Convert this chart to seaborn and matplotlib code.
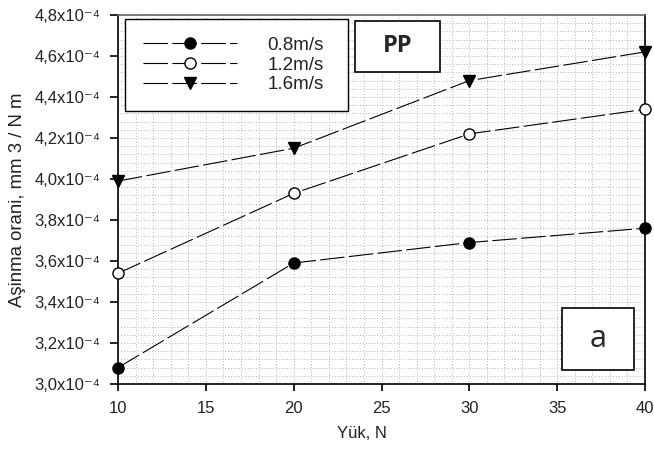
import matplotlib
matplotlib.use("Agg")
import matplotlib.pyplot as plt
import matplotlib.ticker as mticker
from matplotlib.patches import Rectangle
import seaborn as sns
import pandas as pd

# Wear rate of PP versus load at three sliding speeds
loads = [10, 20, 30, 40]
rate_08 = [3.08e-4, 3.59e-4, 3.69e-4, 3.76e-4]
rate_12 = [3.54e-4, 3.93e-4, 4.22e-4, 4.34e-4]
rate_16 = [3.99e-4, 4.15e-4, 4.48e-4, 4.62e-4]
speed_labels = ["0.8m/s", "1.2m/s", "1.6m/s"]

sns.set_theme(style="white")
plt.rcParams["font.family"] = ["Liberation Sans", "DejaVu Sans"]

fig = plt.figure(figsize=(6.54, 4.53), dpi=100)
ax = fig.add_axes([118 / 654, 1 - 384 / 453, (645 - 118) / 654, (384 - 15) / 453])

series = [
    (rate_08, dict(marker="o", markerfacecolor="black", markeredgecolor="black")),
    (rate_12, dict(marker="o", markerfacecolor="white", markeredgecolor="black")),
    (rate_16, dict(marker="v", markerfacecolor="black", markeredgecolor="black")),
]

for (vals, mstyle), lab in zip(series, speed_labels):
    df = pd.DataFrame({"load": loads, "rate": vals})
    sns.lineplot(data=df, x="load", y="rate", ax=ax, color="black",
                 linewidth=0.8, markersize=8, markeredgewidth=1.0,
                 label=lab, clip_on=False, zorder=5, **mstyle)

for ln in ax.get_lines():
    ln.set_dashes((22, 4))

ax.set_xlim(10, 40)
ax.set_ylim(3.0e-4, 4.8e-4)
ax.xaxis.set_major_locator(mticker.MultipleLocator(5))
ax.xaxis.set_minor_locator(mticker.MultipleLocator(1))
ax.yaxis.set_major_locator(mticker.MultipleLocator(0.2e-4))
ax.yaxis.set_minor_locator(mticker.MultipleLocator(0.04e-4))


def ylab(v, pos):
    m = v / 1e-4
    return f"{m:.1f}".replace(".", ",") + "x10\u207b\u2074"


ax.yaxis.set_major_formatter(mticker.FuncFormatter(ylab))

ax.grid(which="both", color="#555555", linestyle=(0, (1, 3.5)), linewidth=0.45)
ax.set_axisbelow(True)

for s in ax.spines.values():
    s.set_color("black")
    s.set_linewidth(1.2)
ax.spines["top"].set_color("#666666")

ax.tick_params(axis="both", which="major", direction="out", width=1.2,
               color="black", labelsize=12,
               bottom=True, left=True, top=False, right=False)
ax.tick_params(axis="y", which="major", length=5.8, pad=7)
ax.tick_params(axis="x", which="major", length=5, pad=7)
ax.tick_params(axis="both", which="minor", length=0)

ax.set_xlabel("Yük, N", fontsize=12, labelpad=7.5, color="#222222")
ax.xaxis.label.set_x((362 - 118) / 527)
ax.set_ylabel("Aşinma orani, mm 3 / N m", fontsize=13.4, labelpad=6, color="#222222")
for t in ax.get_xticklabels() + ax.get_yticklabels():
    t.set_color("#222222")

# Legend box spanning the upper-left corner of the plot
px = lambda x: (x - 118) / 527
py = lambda y: (384 - y) / 369
leg = ax.legend(loc="upper left",
                bbox_to_anchor=(px(125), py(110), px(348) - px(125), py(19) - py(110)),
                mode="expand", borderaxespad=0, frameon=True, fancybox=False,
                edgecolor="black", framealpha=1, fontsize=13.5,
                handlelength=5.0, handletextpad=1.65, labelspacing=0.13,
                borderpad=0.95, numpoints=1)
leg.get_frame().set_linewidth(1.0)
for h in leg.get_lines():
    h.set_dashes((22, 4))
for t in leg.get_texts():
    t.set_color("#222222")
leg.set_zorder(10)

# Sample label boxes
ax.add_patch(Rectangle((px(355), py(72)), px(440) - px(355), py(21) - py(72),
                       transform=ax.transAxes, facecolor="white",
                       edgecolor="black", linewidth=1.2, zorder=11))
ax.text((px(355) + px(440)) / 2, (py(72) + py(21)) / 2, "PP",
        transform=ax.transAxes, ha="center", va="center", fontsize=17,
        fontweight="bold", family="Open Sans", zorder=12)
ax.add_patch(Rectangle((px(562), py(370)), px(634) - px(562), py(308) - py(370),
                       transform=ax.transAxes, facecolor="white",
                       edgecolor="black", linewidth=1.2, zorder=11))
ax.text((px(562) + px(634)) / 2, (py(370) + py(308)) / 2, "a",
        transform=ax.transAxes, ha="center", va="center", fontsize=22,
        family="Open Sans", zorder=12)

fig.savefig("out.png", dpi=100)
